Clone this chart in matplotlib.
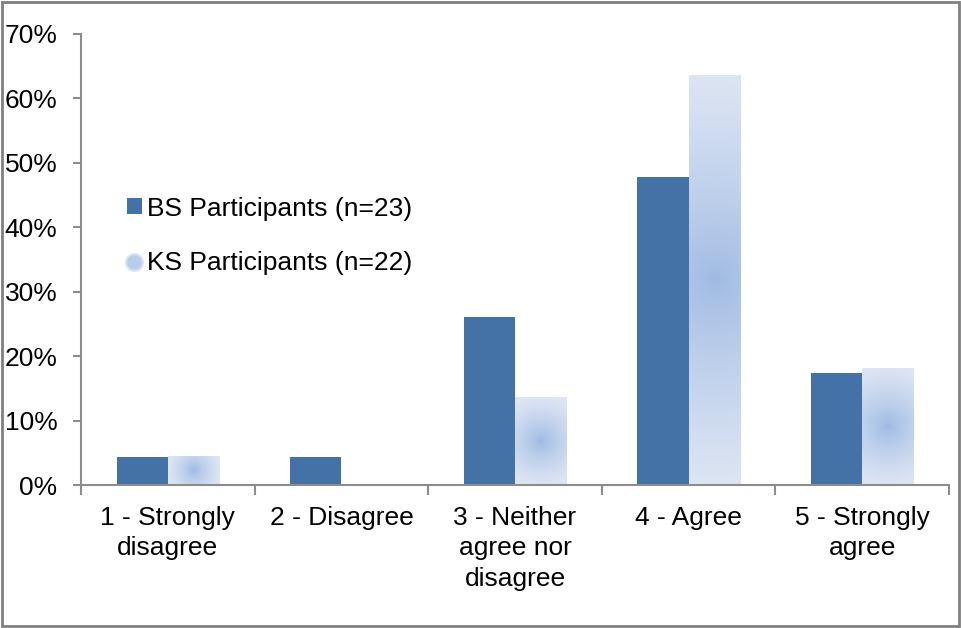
import numpy as np
import matplotlib
matplotlib.use("Agg")
import matplotlib.pyplot as plt
from matplotlib.patches import Patch, Rectangle
from matplotlib.lines import Line2D
from matplotlib.colors import to_rgb

plt.rcParams['font.family'] = ['Liberation Sans', 'DejaVu Sans']

categories = ["1 - Strongly\ndisagree", "2 - Disagree", "3 - Neither\nagree nor\ndisagree",
              "4 - Agree", "5 - Strongly\nagree"]
bs_counts = [1, 1, 6, 11, 4]
ks_counts = [1, 0, 3, 14, 4]
bs_n = 23
ks_n = 22
bs_pct = [100 * c / bs_n for c in bs_counts]
ks_pct = [100 * c / ks_n for c in ks_counts]

bs_color = "#4472A6"
ks_center = np.array(to_rgb("#9DB9E3"))
ks_edge = np.array(to_rgb("#DDE5F3"))
axis_gray = "#8C8C8C"
fs = 19

fig = plt.figure(figsize=(9.61, 6.28), dpi=100)
ax = fig.add_axes([0.0843, 0.2277, 0.9032, 0.7182])

x = np.arange(len(categories))
w = 0.295

ax.bar(x - w / 2, bs_pct, width=w, color=bs_color, zorder=2)


def gradient_bar(ax, xc, h, width):
    # light radial fill, darkest in the middle of the bar
    if h <= 0:
        return
    ny, nx = 120, 60
    xs = np.linspace(-1, 1, nx) * (width / 2)
    ys = np.linspace(-1, 1, ny) * (h / 2)
    # scale to pixels so the spot stays round
    sx = 868 / 5.0
    sy = 451 / 70.0
    X, Y = np.meshgrid(xs * sx, ys * sy)
    rad = max(width / 2 * sx, h / 2 * sy)
    r = np.clip(np.sqrt(X ** 2 + Y ** 2) / rad, 0, 1) ** 0.75
    img = ks_center[None, None, :] * (1 - r[..., None]) + ks_edge[None, None, :] * r[..., None]
    rect = Rectangle((xc - width / 2, 0), width, h, facecolor="none", edgecolor="none")
    ax.add_patch(rect)
    im = ax.imshow(img, extent=(xc - width / 2, xc + width / 2, 0, h), origin="lower",
                   aspect="auto", zorder=2, interpolation="bilinear")
    im.set_clip_path(rect)


for xi, v in zip(x, ks_pct):
    gradient_bar(ax, xi + w / 2, v, w)

ax.set_xlim(-0.5, len(categories) - 0.5)
ax.set_ylim(0, 70)
ax.set_yticks(np.arange(0, 71, 10))
ax.set_yticklabels([f"{v}%" for v in range(0, 71, 10)])

ax.set_xticks(np.arange(-0.5, len(categories), 1))
ax.set_xticklabels([])
ax.set_xticks(x, minor=True)
ax.set_xticklabels(categories, minor=True, linespacing=1.35)

ax.tick_params(axis="y", direction="out", length=6, width=1.5, color=axis_gray,
               labelsize=fs, pad=11)
ax.tick_params(axis="x", which="major", direction="out", length=7, width=1.5, color=axis_gray)
ax.tick_params(axis="x", which="minor", length=0, labelsize=fs, pad=15)

for s in ["top", "right"]:
    ax.spines[s].set_visible(False)
for s in ["left", "bottom"]:
    ax.spines[s].set_color(axis_gray)
    ax.spines[s].set_linewidth(1.5)

handles = [
    Patch(facecolor=bs_color, edgecolor="none"),
    Line2D([], [], marker="o", linestyle="none", markersize=12,
           markerfacecolor="#B9CDEB", markeredgecolor="#D6E1F2", markeredgewidth=1.5),
]
labels = [f"BS Participants (n={bs_n})", f"KS Participants (n={ks_n})"]
ax.legend(handles, labels, loc="center left", bbox_to_anchor=(0.053, 0.552),
          frameon=False, fontsize=fs, labelspacing=1.17, handlelength=0.55,
          handleheight=0.55, handletextpad=0.2, borderpad=0, borderaxespad=0)

# outer chart frame
fig.patches.append(Rectangle((0.002, 0.003), 0.996, 0.994, transform=fig.transFigure,
                             fill=False, edgecolor="#808080", linewidth=2))

fig.savefig("out.png", dpi=100)
